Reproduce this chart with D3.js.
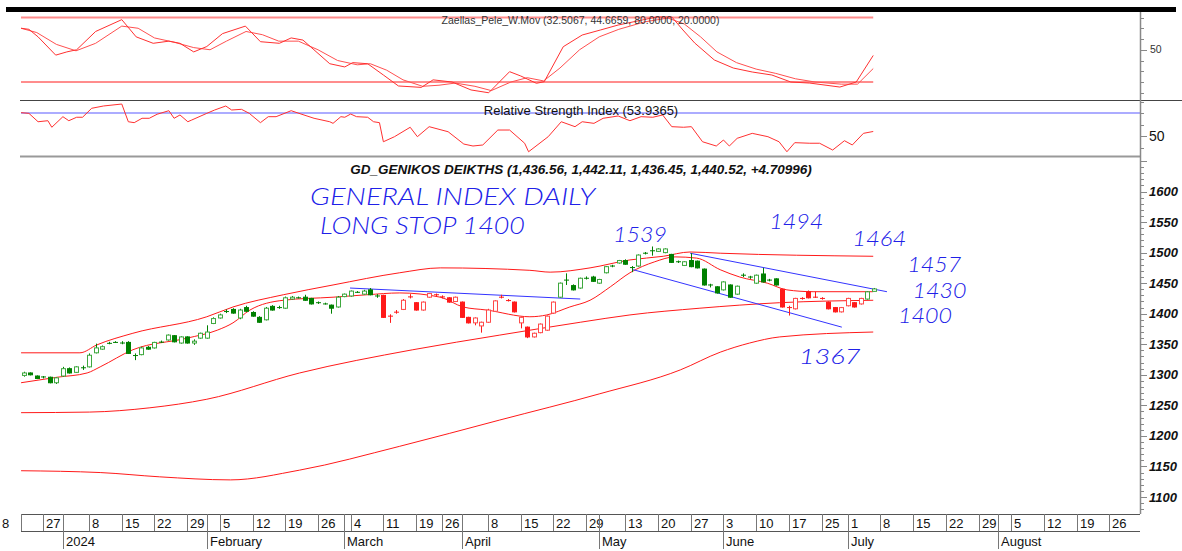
<!DOCTYPE html>
<html><head><meta charset="utf-8">
<script src="https://cdn.jsdelivr.net/npm/d3@7"></script>
<style>body{margin:0;background:#fff}svg{display:block;font-family:"Liberation Sans",Arial,sans-serif}</style>
</head><body><svg id="c" width="1182" height="551"></svg>
<script>
// ---------------- DATA ----------------
const firstIndex = 2; // trading-day index of first candle
const open = [
1299,1303,1298,1296,1296,1287,1298,1310,1304,1311,
1313,1336,1342,1351,1353,1351,1353,1332,1333,1345,
1344,1353,1357,1364,1352,1362,1352,1360,1360,1384,
1393,1403,1407,1393,1410,1402,1394,1390,1412,1409,
1409,1424,1426,1427,1425,1417,1416,1414,1411,1428,
1429,1435,1432,1439,1430,1430,1396,1402,1407,1427,
1418,1406,1427,1431,1428,1426,1420,1419,1394,1385,
1380,1386,1404,1427,1422,1419,1385,1378,1362,1369,
1373,1401,1427,1455,1446,1442,1458,1460,1450,1467,
1478,1483,1487,1476,1478,1499,1503,1502,1500,1497,
1485,1479,1487,1486,1473,1447,1444,1439,1447,1432,
1463,1460,1450,1465,1455,1457,1440,1410,1408,1425,
1436,1427,1425,1419,1410,1403,1413,1418,1416,1424,1436.56];
const high = [
1305,1304,1299,1298,1297,1296,1313,1312,1314,1315,
1335,1351,1348,1354,1355,1355,1355,1335,1346,1347,
1354,1356,1366,1365,1363,1363,1358,1369,1381,1394,
1400,1407,1409,1408,1413,1404,1396,1411,1414,1413,
1428,1429,1428,1431,1426,1420,1418,1415,1429,1433,
1438,1437,1439,1442,1432,1431,1399,1406,1424,1432,
1419,1420,1434,1433,1430,1427,1428,1420,1395,1394,
1387,1408,1422,1431,1424,1420,1395,1379,1369,1384,
1397,1420,1451,1466,1448,1459,1461,1462,1457,1478,
1480,1488,1489,1478,1497,1501,1510,1507,1507,1498,
1487,1486,1499,1487,1474,1449,1445,1453,1448,1446,
1466,1462,1464,1475,1457,1458,1441,1413,1426,1427,
1438,1436,1427,1420,1411,1411,1426,1419,1426,1437,1442.11];
const low = [
1297,1299,1293,1294,1286,1285,1297,1302,1303,1308,
1312,1335,1341,1350,1352,1350,1334,1324,1332,1341,
1343,1352,1356,1353,1351,1351,1349,1359,1359,1383,
1392,1401,1400,1391,1403,1395,1385,1389,1405,1408,
1408,1423,1425,1421,1415,1416,1415,1400,1410,1427,
1428,1434,1431,1430,1426,1393,1385,1400,1406,1425,
1405,1405,1426,1429,1425,1418,1419,1393,1384,1381,
1369,1385,1403,1425,1420,1402,1376,1360,1361,1368,
1372,1400,1426,1447,1438,1441,1456,1452,1449,1466,
1476,1482,1480,1468,1477,1497,1495,1501,1499,1483,
1483,1478,1476,1474,1446,1443,1433,1438,1426,1431,
1460,1457,1449,1451,1453,1446,1410,1397,1407,1423,
1425,1426,1423,1407,1402,1402,1412,1410,1415,1423,1436.45];
const close = [
1303,1300,1294,1297,1287,1295,1310,1303,1313,1312,
1332,1344,1346,1352,1353,1353,1335,1331,1344,1342,
1353,1354,1365,1354,1362,1352,1355,1368,1370,1392,
1398,1404,1401,1406,1404,1396,1386,1409,1406,1411,
1426,1427,1426,1422,1416,1419,1416,1409,1427,1432,
1437,1435,1437,1431,1428,1394,1396,1403,1422,1428,
1406,1419,1433,1431,1427,1419,1427,1394,1385,1393,
1386,1406,1421,1427,1421,1403,1394,1362,1368,1383,
1396,1419,1450,1455,1439,1458,1458,1453,1456,1477,
1478,1487,1481,1475,1496,1499,1503,1506,1506,1484,
1485,1485,1477,1475,1447,1447,1434,1452,1427,1445,
1463,1460,1463,1452,1455,1447,1411,1410,1425,1425,
1426,1427,1425,1408,1403,1410,1425,1411,1425,1435.81,1440.52];
// trend state runs (colour of candles): [state, fromIndex, toIndex]
const trendRuns = [["up",2,56],["down",57,83],["up",84,117],["down",118,130],["up",131,132]];

// indicator lines on price panel: [tradingDayIndex, value]
const bandUpper = [[1.6,1336],[10.6,1336],[13.2,1349],[18.7,1368],[30,1395],[34,1411],[41.7,1431],[49.3,1447],[59.5,1467],[65.7,1475],[79.4,1471],[82.5,1468],[88.6,1475],[94.7,1488],[99.8,1494],[103.9,1501],[108.5,1499],[131.9,1494]];
const bandMid = [[1.6,1287],[7.1,1296],[11.7,1303],[13.7,1313],[18.7,1341],[27,1360],[31.6,1373],[34,1385],[36.6,1406],[41.7,1422],[49.3,1427],[54.5,1431],[59.5,1434],[65.7,1427],[69.2,1411],[72.8,1406],[79.4,1395],[82,1398],[85.5,1411],[88.6,1422],[91.7,1444],[94.7,1467],[98.5,1485],[101.6,1493],[104.9,1491],[108.5,1472],[111.5,1460],[115.7,1450],[118.7,1439],[122.7,1436],[131.9,1436]];
const longMid = [[1.6,1238],[12.1,1239],[21.3,1246],[30,1260],[44.2,1303],[61.5,1341],[74.8,1365],[87.1,1386],[94.7,1398],[105.4,1409],[117.6,1418],[131.9,1422]];
const longLower = [[1.6,1143],[13.7,1140],[22.8,1133],[33.6,1128],[44.2,1144],[59.5,1183],[74.8,1226],[90.1,1269],[102.4,1308],[108.5,1337],[113,1352],[117.6,1362],[131.9,1370]];
// hand-drawn trend lines
const trendLines = [[[51.9,1442],[87.1,1424]],[[103.9,1499],[134,1436]],[[95.2,1472],[127.1,1378]]];
// hand-written notes: [text, index, value]
const notes = [["GENERAL INDEX DAILY",45.8,1578],["LONG STOP 1400",47.3,1530],
  ["1539",92.1,1518],["1494",116,1538],["1464",128.7,1510],["1457",137.1,1468],["1430",137.9,1426],["1400",135.7,1385],["1367",120.5,1318]];

// stochastic (Zaellas_Pele_W.Mov): [index, value]
const stochK = [[1.6,70],[2.8,69],[4.2,62],[6.9,45],[8.6,48],[10.1,50],[13,67],[17,78],[19.2,62],[21.8,56],[24.2,58],[25.9,56],[28,48],[30,53],[32.4,65],[35.9,72],[38.2,57.5],[41.1,56],[42.9,61],[44.7,59],[48.8,37],[51.1,34],[52.3,38],[54.6,37],[57,26.5],[59.3,16.3],[62.8,15],[64.6,22],[67.5,20],[70.4,12.6],[73.1,10],[76.3,29.6],[78,25.6],[80.4,18.8],[81.6,20.3],[84.5,52.8],[87.4,63.7],[90.2,68.4],[92.9,73],[98.8,80.5],[101.1,80.5],[102.8,68.4],[104.6,56.3],[107.6,40.5],[110.5,33],[113.4,29.3],[116.4,26.5],[119.3,20],[122.2,19],[126.8,15.3],[129.3,20],[131.9,44.67]];
const stochD = [[1.6,70],[4,66],[7,55],[10,49],[13,56],[17,72],[19.5,70],[22,61],[25,57],[28,52],[30.5,50],[33,58],[36,67],[38.5,64],[41,58],[44,58],[47,50],[50,40],[53,36],[55,37],[57.5,31],[60,22],[63,16],[65.5,17],[68,19],[71,16],[73.5,12],[76.5,20],[79,24],[81.5,21],[84,33],[87,50],[90,62],[93,69],[97,76],[100.5,79.5],[103,74],[105.5,62],[108,48],[111,38],[114,32],[117,28],[120,23],[123,20],[127,18],[129.5,18],[131.9,32.51]];
const stochLevels = [80,20];
// RSI
const rsi = [[1.6,70.3],[2.8,69.7],[4.2,62.4],[5.7,63.3],[6.3,57.6],[8,66.8],[8.9,63.3],[10.1,66.3],[11,66.3],[12.4,74.1],[14.2,76.1],[17,77.8],[18,62.4],[18.9,61.6],[20.1,65.4],[21.2,65.4],[22.4,68.9],[24.2,72],[25,65.4],[25.9,68.3],[27.1,62.4],[27.7,63.9],[30,69.7],[31.2,72.6],[32.9,76.1],[33.8,72.6],[35.3,73.2],[36.5,69.7],[38.2,61.6],[39.4,66.8],[40.6,66.8],[42.9,72],[44.1,69.7],[46.4,65.4],[48.8,62.4],[49.3,61],[50.5,66.8],[51.1,66.3],[52,69.1],[52.9,66.8],[54.6,66.3],[55.5,62.4],[56.4,61.6],[57,45],[58.7,49.4],[61.1,57.6],[62.2,49.4],[64,58.1],[66.9,53.7],[69.3,43],[70.7,41.3],[72.2,42.2],[74.5,55.2],[76.3,55.2],[78.6,43.7],[79.2,36.3],[82.2,49.4],[84.2,62.4],[86.3,58.1],[87.4,62.4],[89.2,61],[90.6,65.4],[92.9,67.4],[94.7,63.3],[96.4,66.8],[98.2,66.3],[99.7,68.3],[101.1,58.1],[102.9,57.6],[104.1,58.1],[105.8,45],[107.9,41.3],[109,46.5],[109.9,41.3],[111.1,48],[113.4,52.3],[115.8,49.4],[117.5,45],[118.7,36.3],[119.9,44.2],[122.2,43.7],[123.7,43.7],[125.7,37.8],[127.5,45.9],[128.7,42.2],[130.4,52.3],[131.9,53.94]];
const rsiLevel = 70;

// axis labels: [label, tradingDayIndex]
const dayTicks = [["8",-1.85],["27",5],["8",12],["15",17],["22",22],["29",27],["5",32],["12",37],["19",42],["26",47],["4",52],["11",57],["19",62],["26",66],["8",73],["15",78],["22",83],["29",88],["13",94],["20",99],["27",104],["3",109],["10",114],["17",119],["25",124],["1",128],["8",133],["15",138],["22",143],["29",148],["5",153],["12",158],["19",163],["26",168]];
const monthTicks = [["2024",8],["February",30],["March",51],["April",69],["May",90],["June",109],["July",128],["August",151]];
const priceTicks = d3.range(1100,1601,50);
const titleMain = "GD_GENIKOS DEIKTHS (1,436.56, 1,442.11, 1,436.45, 1,440.52, +4.70996)";
const titleStoch = "Zaellas_Pele_W.Mov (32.5067, 44.6659, 80.0000, 20.0000)";
const titleRsi = "Relative Strength Index (53.9365)";

// ---------------- DRAW ----------------
const svg = d3.select("#c");
const PL = 21, PR = 1140;
const x = d3.scaleLinear().domain([0,168]).range([10.6,10.6+6.54*168]);
const yP = d3.scaleLinear().domain([1100,1600]).range([497,191.5]);
const yS = d3.scaleLinear().domain([20,80]).range([82,17.5]);
const yR = d3.scaleLinear().domain([50,70]).range([136,113]);
const RED = "#ff1a1a", GREEN = "#008000", BLUE = "#3434ff";

const defs = svg.append("defs");
function clip(id,y0,y1){defs.append("clipPath").attr("id",id).append("rect").attr("x",PL).attr("y",y0).attr("width",PR-PL).attr("height",y1-y0);}
clip("cm",157,513); clip("cs",12,100); clip("cr",100,156);

// top black bar
svg.append("rect").attr("x",6).attr("y",7).attr("width",1170).attr("height",5).attr("fill","#000");

// ---- stochastic panel
const gS = svg.append("g").attr("clip-path","url(#cs)");
const lastX = x(131.9);
stochLevels.forEach((v,k)=>{
  gS.append("line").attr("x1",PL-1).attr("x2",lastX).attr("y1",yS(v)).attr("y2",yS(v))
    .attr("stroke", k===0 ? "#ff8c8c" : RED).attr("stroke-width", k===0 ? 2 : 1);
});
const lineS = d3.line().x(d=>x(d[0])).y(d=>yS(d[1]));
gS.append("path").attr("d",lineS(stochD)).attr("fill","none").attr("stroke","#ff5050").attr("stroke-width",1);
gS.append("path").attr("d",lineS(stochK)).attr("fill","none").attr("stroke","#ff3030").attr("stroke-width",1);
svg.append("text").attr("x",580.5).attr("y",24).attr("text-anchor","middle").attr("font-size",10.5).attr("fill","#333").text(titleStoch);
svg.append("line").attr("x1",20).attr("x2",1182).attr("y1",100.5).attr("y2",100.5).attr("stroke","#444");

// ---- RSI panel
const gR = svg.append("g").attr("clip-path","url(#cr)");
gR.append("line").attr("x1",PL-1).attr("x2",PR).attr("y1",yR(rsiLevel)).attr("y2",yR(rsiLevel)).attr("stroke","#5a5aff").attr("stroke-width",1.2);
gR.append("path").attr("d",d3.line().x(d=>x(d[0])).y(d=>yR(d[1]))(rsi)).attr("fill","none").attr("stroke","#ff3030");
svg.append("text").attr("x",581).attr("y",115).attr("text-anchor","middle").attr("font-size",13).attr("fill","#111").text(titleRsi);
svg.append("line").attr("x1",20).attr("x2",PR).attr("y1",156.5).attr("y2",156.5).attr("stroke","#999").attr("stroke-width",2);

// ---- price panel
svg.append("text").attr("x",581).attr("y",174).attr("text-anchor","middle").attr("font-size",13.5)
  .attr("font-weight","bold").attr("font-style","italic").attr("fill","#111").text(titleMain);
const gM = svg.append("g").attr("clip-path","url(#cm)");
const lineP = d3.line().x(d=>x(d[0])).y(d=>yP(d[1])).curve(d3.curveMonotoneX);
[bandUpper,bandMid,longMid,longLower].forEach(s=>{
  gM.append("path").attr("d",lineP(s)).attr("fill","none").attr("stroke",RED).attr("stroke-width",1);
});
trendLines.forEach(t=>{
  gM.append("line").attr("x1",x(t[0][0])).attr("y1",yP(t[0][1])).attr("x2",x(t[1][0])).attr("y2",yP(t[1][1]))
    .attr("stroke",BLUE).attr("stroke-width",1);
});
const candles = open.map((o,k)=>{
  const i = firstIndex+k;
  const run = trendRuns.find(r=>i>=r[1]&&i<=r[2]);
  return {i,o,h:high[k],l:low[k],c:close[k],col: run[0]==="up"?GREEN:RED};
});
const cg = gM.append("g");
candles.forEach(d=>{
  const cx = Math.round(x(d.i))+0.5;
  cg.append("line").attr("x1",cx).attr("x2",cx).attr("y1",yP(d.h)).attr("y2",yP(d.l)).attr("stroke",d.col).attr("stroke-width",1);
  const top = yP(Math.max(d.o,d.c)), bot = yP(Math.min(d.o,d.c));
  const hollow = d.c > d.o;
  if (bot-top < 1.5) {
    cg.append("line").attr("x1",cx-2.5).attr("x2",cx+2.5).attr("y1",(top+bot)/2).attr("y2",(top+bot)/2).attr("stroke",d.col);
  } else {
    cg.append("rect").attr("x",cx-2).attr("y",top).attr("width",4).attr("height",bot-top)
      .attr("fill",hollow?"#fff":d.col).attr("stroke",hollow?(d.col===GREEN?"#3ea83e":"#ff4a4a"):d.col).attr("stroke-width",1);
  }
});
// hand-written notes
notes.forEach(n=>{
  const big = n[0].length>5;
  svg.append("text").attr("x",x(n[1])).attr("y",yP(n[2]))
    .attr("font-family","Lato, 'Open Sans', sans-serif").attr("font-style","italic").attr("font-weight",300)
    .attr("font-size",big?23:21).attr("fill","#2020e8")
    .attr("textLength",big?(n[0].length>15?285:205):n[0]==="1367"?62:54).attr("lengthAdjust","spacingAndGlyphs")
    .text(n[0]);
});

// ---- right axis
svg.append("line").attr("x1",PR+0.5).attr("x2",PR+0.5).attr("y1",12).attr("y2",514).attr("stroke","#888").attr("stroke-width",1.5);
d3.range(1060,1660,10).forEach(v=>{
  const y=yP(v); if(y<158||y>512) return;
  const major = v%50===0;
  svg.append("line").attr("x1",PR).attr("x2",PR+(major?7:4)).attr("y1",Math.round(y)+0.5).attr("y2",Math.round(y)+0.5).attr("stroke","#888");
});
priceTicks.forEach(v=>{
  svg.append("text").attr("x",1149).attr("y",yP(v)+4.5).attr("font-size",13).attr("font-weight","bold").attr("font-style","italic").attr("fill","#111").text(v);
});
d3.range(10,90,10).forEach(v=>{
  const y=yS(v); if(y<13||y>99) return;
  svg.append("line").attr("x1",PR).attr("x2",PR+(v===50?7:4)).attr("y1",Math.round(y)+0.5).attr("y2",Math.round(y)+0.5).attr("stroke","#888");
});
svg.append("text").attr("x",1150).attr("y",yS(50)+3.5).attr("font-size",10.5).attr("fill","#333").text("50");
d3.range(30,90,10).forEach(v=>{
  const y=yR(v); if(y<101||y>158) return;
  svg.append("line").attr("x1",PR).attr("x2",PR+(v===50?7:4)).attr("y1",Math.round(y)+0.5).attr("y2",Math.round(y)+0.5).attr("stroke","#888");
});
svg.append("text").attr("x",1149).attr("y",yR(50)+5).attr("font-size",14).attr("fill","#111").text("50");

// ---- bottom date axis
const ax = svg.append("g");
ax.append("line").attr("x1",PL).attr("x2",PR).attr("y1",514.5).attr("y2",514.5).attr("stroke","#555");
ax.append("line").attr("x1",PL).attr("x2",PR).attr("y1",531.5).attr("y2",531.5).attr("stroke","#555");
ax.append("line").attr("x1",PL+0.5).attr("x2",PL+0.5).attr("y1",514).attr("y2",531).attr("stroke","#777");
dayTicks.forEach(t=>{
  const xx=Math.round(x(t[1]))+0.5;
  if (xx>PL) ax.append("line").attr("x1",xx).attr("x2",xx).attr("y1",514).attr("y2",531).attr("stroke","#777");
  ax.append("text").attr("x",xx+2.5).attr("y",527.5).attr("font-size",13).attr("fill","#111").text(t[0]);
});
monthTicks.forEach(t=>{
  const xx=Math.round(x(t[1]))+0.5;
  ax.append("line").attr("x1",xx).attr("x2",xx).attr("y1",514).attr("y2",549).attr("stroke","#777");
  ax.append("text").attr("x",xx+2.5).attr("y",545.5).attr("font-size",13).attr("fill","#111").text(t[0]);
});
</script>
</body></html>
